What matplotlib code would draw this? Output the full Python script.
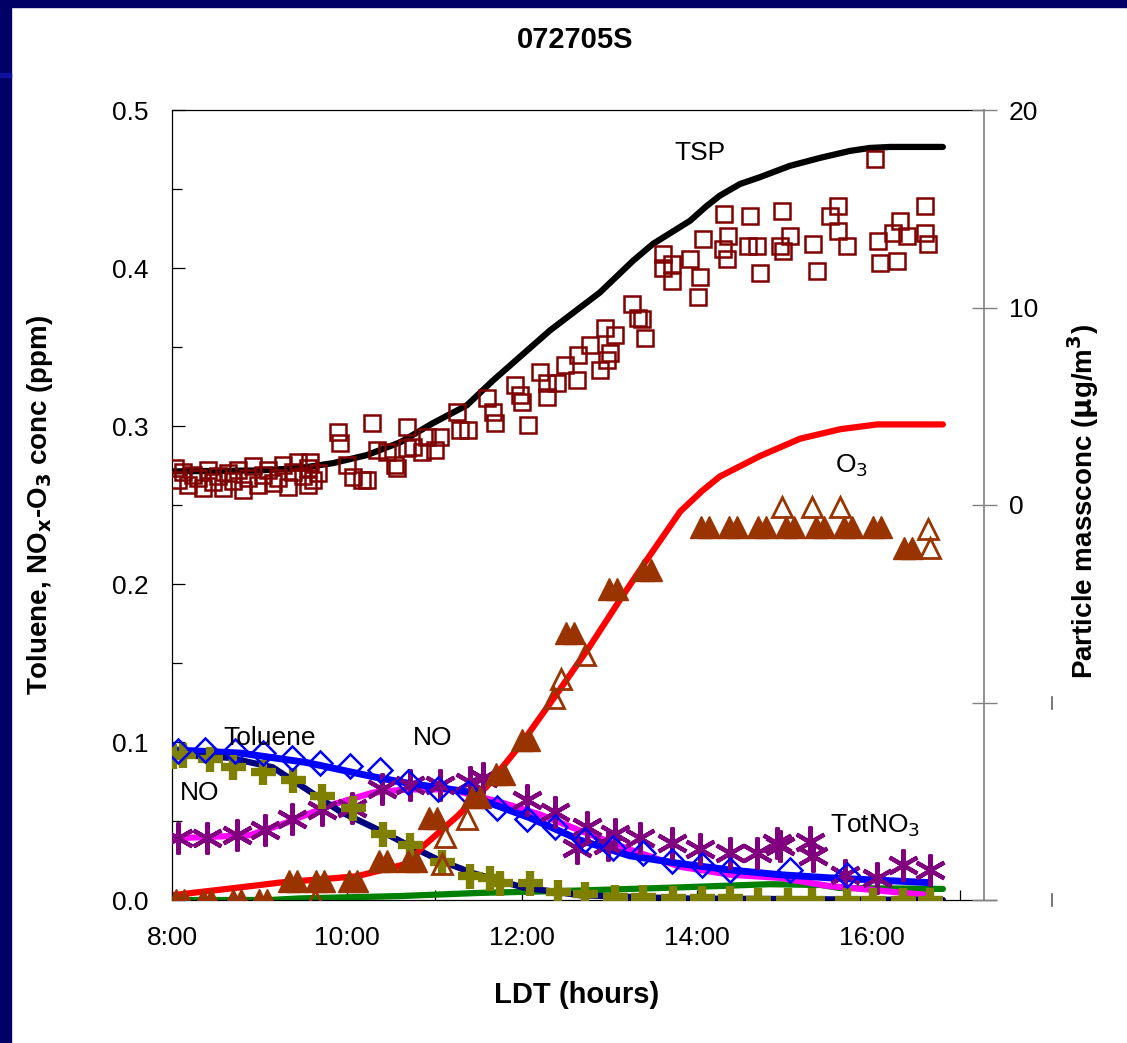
import matplotlib
matplotlib.use("Agg")
import matplotlib.pyplot as plt
from matplotlib.patches import Rectangle
from matplotlib.lines import Line2D
from matplotlib.ticker import FixedLocator, FuncFormatter

plt.rcParams['font.family'] = ['Liberation Sans', 'DejaVu Sans']

# ---- data (time in decimal hours LDT) ----
# TSP line, particle mass (ug/m3, right axis)
tsp_t = [8.00, 9.00, 9.46, 9.84, 10.23, 10.61, 10.98, 11.37, 11.67, 12.32, 12.89, 13.27,
         13.50, 13.92, 14.10, 14.26, 14.49, 14.72, 15.06, 15.41, 15.75, 15.98, 16.21, 16.81]
tsp_v = [1.70, 1.75, 1.87, 2.12, 2.53, 3.18, 4.14, 5.05, 6.31, 8.84, 10.76, 12.37,
         13.23, 14.39, 15.10, 15.66, 16.25, 16.60, 17.17, 17.58, 17.93, 18.08, 18.13, 18.13]

# measured particle mass (squares, right axis)
pm_t = [8.03, 8.07, 8.13, 8.18, 8.24, 8.30, 8.35, 8.41, 8.47, 8.53, 8.58, 8.64, 8.70, 8.75,
        8.81, 8.87, 8.93, 8.98, 9.04, 9.10, 9.15, 9.21, 9.27, 9.33, 9.38, 9.44, 9.50, 9.55,
        9.61, 9.67, 9.58, 9.55, 9.90, 9.92, 10.00, 10.07, 10.17, 10.23, 10.29, 10.34, 10.46,
        10.55, 10.57, 10.69, 10.69, 10.75, 10.86, 10.91, 11.01, 11.06, 11.26, 11.29, 11.38,
        11.60, 11.67, 11.69, 11.92, 11.98, 12.00, 12.07, 12.21, 12.29, 12.29, 12.40, 12.49,
        12.63, 12.64, 12.78, 12.89, 12.95, 12.97, 13.01, 13.06, 13.26, 13.33, 13.37, 13.41,
        13.61, 13.61, 13.71, 13.71, 13.92, 14.01, 14.03, 14.07, 14.30, 14.31, 14.34, 14.35,
        14.58, 14.61, 14.69, 14.72, 14.95, 14.97, 14.98, 15.06, 15.33, 15.37, 15.52, 15.61,
        15.61, 15.71, 16.03, 16.07, 16.09, 16.24, 16.29, 16.32, 16.40, 16.61, 16.61, 16.64]
pm_v = [1.87, 1.26, 1.67, 1.01, 1.52, 1.36, 0.86, 1.77, 1.16, 1.46, 0.86, 1.62, 1.21, 1.77,
        0.76, 1.36, 1.97, 1.01, 1.52, 1.77, 1.11, 1.36, 2.02, 0.91, 1.67, 2.17, 1.46, 1.87,
        1.26, 1.62, 2.17, 1.01, 3.69, 3.13, 2.02, 1.41, 1.26, 1.26, 4.14, 2.78, 2.68,
        2.02, 1.87, 3.94, 2.88, 2.93, 2.68, 3.43, 2.78, 3.43, 4.70, 3.79, 3.79,
        5.40, 4.70, 4.14, 6.06, 5.56, 5.20, 4.04, 6.72, 5.45, 6.16, 6.16, 7.07,
        6.31, 7.58, 8.08, 6.82, 8.94, 7.32, 7.68, 8.59, 10.20, 9.49, 9.44, 8.48,
        12.73, 12.02, 11.36, 12.22, 12.47, 10.51, 11.52, 13.48, 12.98, 14.75, 12.47, 13.64,
        13.13, 14.65, 13.13, 11.77, 13.13, 14.90, 12.88, 13.64, 13.23, 11.87, 14.65, 13.89,
        15.15, 13.13, 17.53, 13.38, 12.27, 13.79, 12.37, 14.39, 13.64, 13.79, 15.15, 13.23]

# O3 model line (ppm, left axis)
o3_t = [8.00, 8.78, 9.23, 10.11, 10.69, 10.87, 11.26, 11.60, 11.98, 12.43, 12.78, 13.12,
        13.46, 13.81, 14.06, 14.26, 14.72, 15.18, 15.64, 16.06, 16.81]
o3_v = [0.003, 0.008, 0.011, 0.015, 0.023, 0.034, 0.053, 0.072, 0.098, 0.133, 0.161, 0.190,
        0.218, 0.246, 0.259, 0.268, 0.281, 0.292, 0.298, 0.301, 0.301]

# O3 measured (filled triangles, recorded in pairs)
o3m_t = [8.045, 8.135, 8.355, 8.445, 8.695, 8.785, 8.995, 9.085, 9.335, 9.425, 9.645, 9.735,
         10.025, 10.115, 10.365, 10.455, 10.695, 10.785, 10.935, 11.025, 11.425, 11.515,
         11.705, 11.795, 11.995, 12.085, 12.50, 12.59, 12.995, 13.085, 13.38, 13.47,
         14.045, 14.135, 14.365, 14.455, 14.695, 14.785, 15.015, 15.105, 15.365, 15.455,
         15.685, 15.775, 16.015, 16.105, 16.365, 16.455]
o3m_v = [0.0, 0.0, 0.0, 0.0, 0.0, 0.0, 0.0, 0.0, 0.012, 0.012, 0.012, 0.012,
         0.012, 0.012, 0.025, 0.025, 0.025, 0.025, 0.052, 0.052, 0.065, 0.065,
         0.080, 0.080, 0.101, 0.101, 0.169, 0.169, 0.197, 0.197, 0.209, 0.209,
         0.236, 0.236, 0.236, 0.236, 0.236, 0.236, 0.236, 0.236, 0.236, 0.236,
         0.236, 0.236, 0.236, 0.236, 0.223, 0.223]

# O3 second monitor (open triangles)
o3b_t = [9.63, 11.09, 11.12, 11.37, 12.37, 12.45, 12.72, 14.97, 15.31, 15.63, 16.64, 16.66]
o3b_v = [0.0, 0.023, 0.040, 0.051, 0.128, 0.140, 0.155, 0.249, 0.249, 0.249, 0.235, 0.223]

# toluene model line and measured (diamonds)
tol_t = [8.01, 8.78, 9.54, 10.30, 10.69, 11.44, 11.60, 12.09, 12.66, 13.23, 13.81, 14.38,
         14.95, 15.52, 16.66]
tol_v = [0.095, 0.093, 0.087, 0.078, 0.074, 0.068, 0.062, 0.052, 0.038, 0.028, 0.023, 0.019,
         0.016, 0.014, 0.011]
tolm_t = [8.07, 8.38, 8.72, 9.04, 9.37, 9.69, 10.03, 10.38, 10.70, 11.04, 11.38, 11.71, 12.06,
          12.38, 12.72, 13.04, 13.38, 13.71, 14.06, 14.38, 15.06, 15.71]
tolm_v = [0.094, 0.095, 0.094, 0.093, 0.090, 0.087, 0.085, 0.082, 0.075, 0.070, 0.068, 0.058,
          0.051, 0.046, 0.038, 0.033, 0.030, 0.025, 0.022, 0.019, 0.019, 0.016]

# NO model line and measured (olive crosses)
no_t = [8.00, 8.66, 9.15, 9.54, 9.92, 10.30, 10.69, 11.06, 11.44, 12.01, 12.66, 13.81, 16.81]
no_v = [0.092, 0.090, 0.084, 0.070, 0.056, 0.046, 0.035, 0.025, 0.017, 0.008, 0.003, 0.001, 0.0]
nom_t = [8.01, 8.13, 8.43, 8.70, 9.04, 9.38, 9.71, 10.07, 10.41, 10.72, 11.09, 11.41, 11.63,
         11.75, 12.09, 12.41, 12.72, 13.06, 13.38, 13.73, 14.06, 14.38, 14.70, 15.04, 15.31,
         15.71, 16.01, 16.35, 16.66]
nom_v = [0.091, 0.092, 0.089, 0.084, 0.081, 0.076, 0.066, 0.058, 0.042, 0.035, 0.024, 0.015,
         0.014, 0.011, 0.011, 0.005, 0.004, 0.002, 0.002, 0.001, 0.001, 0.001, 0.0, 0.0, 0.0,
         0.0, 0.0, 0.0, 0.0]

# green model line
grn_t = [8.00, 9.12, 9.46, 10.61, 11.52, 12.66, 13.81, 14.83, 15.41, 15.63, 16.81]
grn_v = [0.0, 0.0, 0.001, 0.0025, 0.0045, 0.006, 0.008, 0.010, 0.0095, 0.0076, 0.007]

# TotNO3 model line (magenta) and measured (stars)
tn_t = [8.00, 8.89, 9.31, 9.81, 10.30, 10.69, 11.18, 11.75, 12.21, 12.66, 13.23, 13.81, 14.38,
        14.95, 15.49, 16.66]
tn_v = [0.039, 0.041, 0.049, 0.060, 0.068, 0.070, 0.070, 0.062, 0.054, 0.044, 0.032, 0.021,
        0.016, 0.014, 0.009, 0.003]
tnm_t = [8.07, 8.40, 8.74, 9.06, 9.37, 9.71, 10.06, 10.40, 10.72, 11.06, 11.41, 11.55, 12.06,
         12.38, 12.63, 12.74, 12.98, 13.06, 13.35, 13.71, 14.03, 14.38, 14.69, 14.91, 14.95,
         15.29, 15.33, 15.69, 16.06, 16.35, 16.66]
tnm_v = [0.039, 0.039, 0.041, 0.044, 0.051, 0.057, 0.058, 0.070, 0.073, 0.073, 0.075, 0.077,
         0.063, 0.056, 0.033, 0.046, 0.035, 0.042, 0.039, 0.036, 0.032, 0.030, 0.030, 0.036,
         0.034, 0.037, 0.028, 0.016, 0.014, 0.022, 0.019]

W, H = 1127, 1043
fig = plt.figure(figsize=(W / 100, H / 100), dpi=100)
fig.patch.set_facecolor('white')

# navy slide frame
navy = '#000066'
fig.patches.append(Rectangle((0, 1 - 7 / H), 1, 7 / H, transform=fig.transFigure,
                             color=navy, zorder=0))
fig.patches.append(Rectangle((0, 0), 11 / W, 1, transform=fig.transFigure,
                             color=navy, zorder=0))
fig.patches.append(Rectangle((0, 1 - 77 / H), 11 / W, 4 / H, transform=fig.transFigure,
                             color='#1010a0', zorder=0))

x0, x1, ytop, ybot = 172, 996, 110, 900
ax = fig.add_axes([x0 / W, (H - ybot) / H, (x1 - x0) / W, (ybot - ytop) / H])
xmax = 8 + (x1 - x0) / 87.5
xright = 8 + (984 - x0) / 87.5
ax.set_xlim(8, xmax)
ax.set_ylim(0, 0.5)

line_kw = dict(solid_capstyle='round', solid_joinstyle='round', zorder=2)
ax.plot(grn_t, grn_v, color='#008000', lw=4.5, **line_kw)
ax.plot(tn_t, tn_v, color='#FF00FF', lw=4.5, **line_kw)
ax.plot(tol_t, tol_v, color='#0000FF', lw=5, **line_kw)
ax.plot(no_t, no_v, color='#000080', lw=4.5, **line_kw)
ax.plot(o3_t, o3_v, color='#FF0000', lw=4.5, **line_kw)

ax.plot(tnm_t, tnm_v, ls='none', marker=(6, 2, 0), ms=23, mew=3, color='#800080', zorder=3)
ax.plot(nom_t, nom_v, ls='none', marker='+', ms=18, mew=6, color='#808000', zorder=4)
ax.plot(tolm_t, tolm_v, ls='none', marker='D', ms=12, mew=1.8, mfc='none', mec='#0000FF',
        zorder=5)
ax.plot(o3m_t, o3m_v, ls='none', marker='^', ms=16, mew=1, color='#993300', zorder=6)
ax.plot(o3b_t, o3b_v, ls='none', marker='^', ms=15, mew=2, mfc='none', mec='#993300',
        zorder=6)

# axes styling
ax.spines['right'].set_visible(False)
ax.spines['top'].set_bounds(8, xright)
for s in ['left', 'bottom', 'top']:
    ax.spines[s].set_linewidth(0.9)
ax.yaxis.set_major_locator(FixedLocator([0, 0.1, 0.2, 0.3, 0.4, 0.5]))
ax.yaxis.set_minor_locator(FixedLocator([0.05, 0.15, 0.25, 0.35, 0.45]))
ax.yaxis.set_major_formatter(FuncFormatter(lambda v, p: f"{v:.1f}"))
ax.xaxis.set_major_locator(FixedLocator([8, 10, 12, 14, 16]))
ax.xaxis.set_minor_locator(FixedLocator([9, 11, 13, 15, 17]))
ax.xaxis.set_major_formatter(FuncFormatter(lambda v, p: f"{int(v)}:00"))
ax.tick_params(axis='y', which='major', direction='in', length=9, width=0.9,
               labelsize=19, pad=17)
ax.tick_params(axis='y', which='minor', direction='in', length=7, width=0.9)
ax.tick_params(axis='x', which='both', direction='in', length=7, width=0.9,
               labelsize=19, pad=19)
ax.tick_params(top=False, right=False, which='both')

# right axis: particle mass
ax2 = ax.twinx()
ax2.set_ylim(-20, 20)
ax2.plot(tsp_t, tsp_v, color='black', lw=4.5, solid_capstyle='round',
         solid_joinstyle='round', zorder=2)
ax2.plot(pm_t, pm_v, ls='none', marker='s', ms=12, mew=1.8, mfc='none', mec='#800000',
         zorder=3)
for s in ['left', 'top', 'bottom']:
    ax2.spines[s].set_visible(False)
ax2.spines['right'].set_position(('axes', (984 - x0) / (x1 - x0)))
ax2.spines['right'].set_color('#808080')
ax2.spines['right'].set_linewidth(1.2)
ax2.yaxis.set_major_locator(FixedLocator([-20, -10, 0, 10, 20]))
ax2.yaxis.set_major_formatter(FuncFormatter(lambda v, p: f"{int(v)}" if v >= 0 else ""))
ax2.tick_params(axis='y', direction='inout', length=18, width=1.0, color='#808080',
                labelsize=19, pad=9)

# series annotations
tk = dict(fontsize=19, ha='center', va='center', zorder=10)
ax.text(14.03, 0.473, 'TSP', **tk)
ax.text(15.77, 0.275, 'O$_3$', **tk)
ax.text(9.12, 0.1025, 'Toluene', **tk)
ax.text(10.98, 0.1025, 'NO', **tk)
ax.text(8.32, 0.068, 'NO', **tk)
ax.text(16.03, 0.047, 'TotNO$_3$', **tk)

fig.text(575 / W, 1 - 40 / H, '072705S', fontsize=21, fontweight='bold',
         ha='center', va='center')
fig.text(577 / W, 1 - 995 / H, 'LDT (hours)', fontsize=21, fontweight='bold',
         ha='center', va='center')
fig.text(40 / W, 1 - 505 / H, 'Toluene, NO$_\\mathbf{x}$-O$_\\mathbf{3}$ conc (ppm)',
         fontsize=20, fontweight='bold', rotation=90, ha='center', va='center')
fig.text(1083 / W, 1 - 502 / H, 'Particle massconc ($\\mathbf{\\mu}$g/m$^\\mathbf{3}$)',
         fontsize=20, fontweight='bold', rotation=90, ha='center', va='center')

# stray axis marks right of the chart
for yy in (703, 900):
    fig.add_artist(Line2D([1052 / W, 1052 / W], [1 - (yy - 6) / H, 1 - (yy + 6) / H],
                          color='#606060', lw=1.2, transform=fig.transFigure))

fig.savefig('out.png', dpi=100)
